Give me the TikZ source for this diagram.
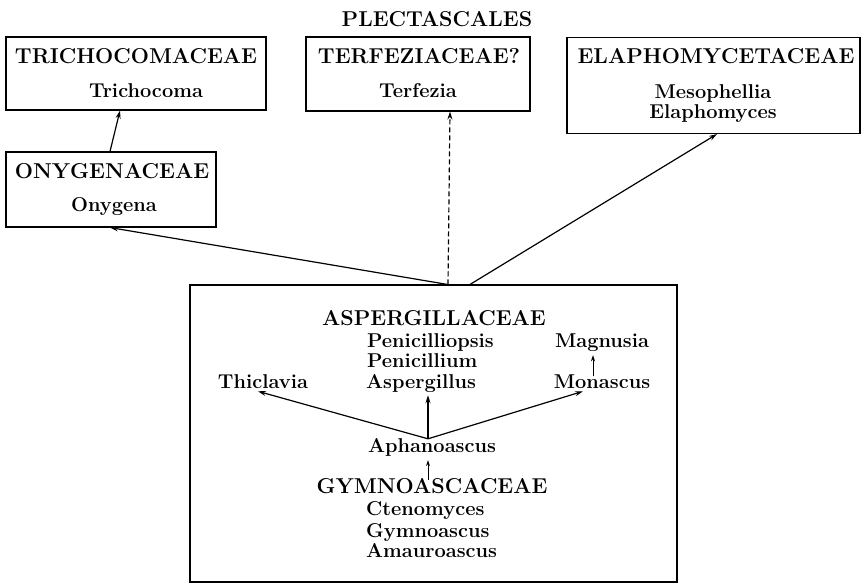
\documentclass[tikz,border=0pt]{standalone}
\usetikzlibrary{arrows.meta}
\begin{document}
\begin{tikzpicture}[x=1pt,y=-1pt,
  box/.style={draw,line width=1.1pt,inner sep=0pt,minimum width=#1},
  capt/.style={font=\fontsize{21.5}{25}\selectfont\bfseries,inner sep=0pt,anchor=base},
  gen/.style={font=\fontsize{20}{23}\selectfont\bfseries,inner sep=0pt,anchor=base},
  genl/.style={gen,anchor=base west},
  arr/.style={line width=1.2pt,-{Stealth[length=8pt,width=5pt]}},
  sarr/.style={line width=1pt,-{Stealth[length=6pt,width=4pt]}}]
\useasboundingbox (0,0) rectangle (863,584);
% boxes
\node[box=260pt,minimum height=73pt] (tribox) at (136,73.5) {};
\node[box=224pt,minimum height=74pt] (terbox) at (418,74) {};
\node[box=293pt,minimum height=96pt] (elabox) at (713.5,85.5) {};
\node[box=210pt,minimum height=75pt] (onybox) at (111,189.5) {};
\node[box=487pt,minimum height=297pt] (big) at (433.5,433.5) {};
% title
\node[capt] (pl) at (437,26) {PLECTASCALES};
% texts
\node[capt] (trit) at (136,63) {TRICHOCOMACEAE};
\node[gen] (tric) at (146,97) {Trichocoma};
\node[capt] (tert) at (419,63) {TERFEZIACEAE?};
\node[gen] (terf) at (418,97) {Terfezia};
\node[capt] (elat) at (716,63) {ELAPHOMYCETACEAE};
\node[gen] (meso) at (713,98) {Mesophellia};
\node[gen] (elap) at (713,118) {Elaphomyces};
\node[capt] (onyt) at (112,178) {ONYGENACEAE};
\node[gen] (onyg) at (114,211) {Onygena};
% inside
\node[capt] (asp) at (434,325) {ASPERGILLACEAE};
\node[genl] (pops) at (367,347) {Penicilliopsis};
\node[genl] (pium) at (367,367) {Penicillium};
\node[genl] (aspg) at (366,388) {Aspergillus};
\node[gen] (magn) at (602,347) {Magnusia};
\node[gen] (mona) at (602,388) {Monascus};
\node[gen] (thie) at (263,388) {Thiclavia};
\node[gen] (apha) at (432,452) {Aphanoascus};
\node[capt] (gym) at (432,493) {GYMNOASCACEAE};
\node[genl] (cten) at (366,515) {Ctenomyces};
\node[genl] (gymn) at (366,537) {Gymnoascus};
\node[genl] (amau) at (366,557) {Amauroascus};
% outer connectors
\draw[arr] ([xshift=-1pt]onybox.north) -- ([xshift=-16pt]tribox.south);
\draw[arr] ([xshift=14pt]big.north) -- ([xshift=-1pt]onybox.south);
\draw[arr,dash pattern=on 5pt off 3pt] ([xshift=14.5pt]big.north) -- ([xshift=32pt]terbox.south);
\draw[arr] ([xshift=36.5pt]big.north) -- ([xshift=3.5pt]elabox.south);
% inner connectors
\coordinate (hub) at ([xshift=-4pt,yshift=-1pt]apha.north);
\draw[arr] (hub) -- ([xshift=-5pt,yshift=-3pt]thie.south);
\draw[arr] (hub) -- ([xshift=62pt,yshift=-3pt]aspg.south west);
\draw[arr] (hub) -- ([xshift=-19pt,yshift=-3pt]mona.south);
\draw[sarr] ([xshift=-4pt,yshift=-2pt]gym.north) -- ([xshift=-4pt,yshift=-4pt]apha.south);
\draw[sarr] ([xshift=-9pt,yshift=-2pt]mona.north) -- ([xshift=-9pt,yshift=-4pt]magn.south);
\end{tikzpicture}
\end{document}
